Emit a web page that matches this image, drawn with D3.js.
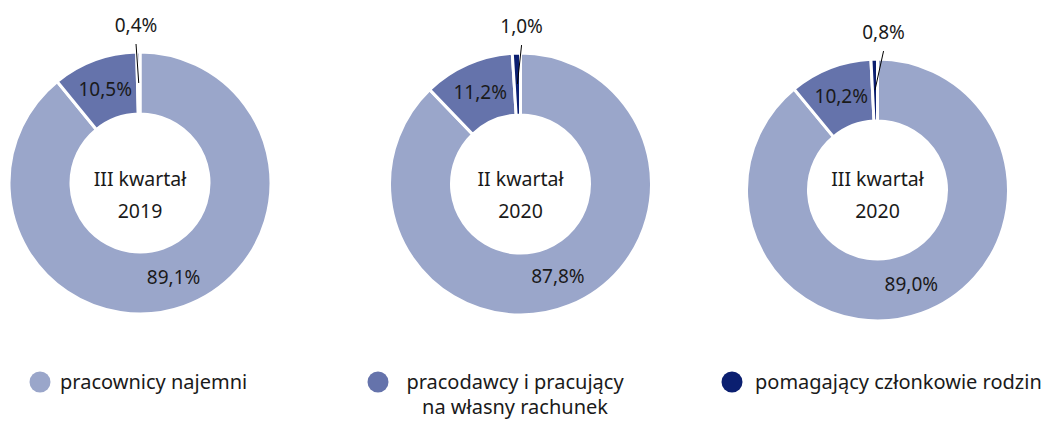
<!DOCTYPE html>
<html>
  <head>
    <meta charset="utf-8">
    <title>Pracujący wg statusu zatrudnienia</title>
    <script src="https://d3js.org/d3.v7.min.js"></script>
    <style>
      body { margin: 0; background: #fff; }
      text { font-family: "Noto Sans", "Open Sans", sans-serif; fill: #1a1a1a; }
    </style>
  </head>
  <body>
    <script>
        var width = 1052;
        var height = 421;

        // data
        var categories = ["pracownicy najemni", "pracodawcy i pracujący na własny rachunek", "pomagający członkowie rodzin"];
        var periodTop = ["III kwartał", "II kwartał", "III kwartał"];
        var periodYear = ["2019", "2020", "2020"];
        var q3_2019 = [89.1, 10.5, 0.4];
        var q2_2020 = [87.8, 11.2, 1.0];
        var q3_2020 = [89.0, 10.2, 0.8];
        var series = [q3_2019, q2_2020, q3_2020];

        // layout
        var centers = [[140, 183], [520.5, 184], [877.5, 190]];
        var outerR = 131, innerR = 69;
        var outsideShift = [-2, 6, 10];
        var titleY = [186, 218];
        var colors = ["#9aa6ca", "#6573ab", "#0b1f70"];

        var color = d3.scaleOrdinal().domain(categories).range(colors);
        var pl = d3.formatLocale({decimal: ",", thousands: " ", grouping: [3], currency: ["", " zł"]});
        var fmt = pl.format(".1f");

        var svg = d3.select("body").append("svg")
            .attr("width", width)
            .attr("height", height)
        ;

        var pie = d3.pie().sort(null).value(function(d){ return d; });
        var arc = d3.arc().innerRadius(innerR).outerRadius(outerR);
        var labelArc = d3.arc().innerRadius(100).outerRadius(100);

        series.forEach(function(vals, k) {
            var g = svg.append("g")
                .attr("transform", "translate(" + centers[k][0] + "," + centers[k][1] + ")");
            var arcs = pie(vals);

            g.selectAll("path")
                .data(arcs)
                .enter()
                .append("path")
                .attr("d", arc)
                .attr("fill", function(d, i){ return color(categories[i]); })
                .attr("stroke", "#fff")
                .attr("stroke-width", 3)
            ;

            arcs.forEach(function(d) {
                var label = fmt(d.data) + "%";
                if (d.data >= 3) {
                    var c = labelArc.centroid(d);
                    g.append("text")
                        .attr("x", c[0])
                        .attr("y", c[1])
                        .attr("dy", "0.35em")
                        .attr("text-anchor", "middle")
                        .attr("font-size", 19)
                        .text(label);
                } else {
                    // small slice: label outside with a leader line
                    var mid = (d.startAngle + d.endAngle) / 2;
                    var lx = 157 * Math.sin(mid) + outsideShift[k];
                    var ly = -157 * Math.cos(mid) + 6;
                    g.append("text")
                        .attr("x", lx)
                        .attr("y", ly)
                        .attr("text-anchor", "middle")
                        .attr("font-size", 19)
                        .text(label);
                    var inner = labelArc.centroid(d);
                    g.append("line")
                        .attr("x1", lx)
                        .attr("y1", ly + 12)
                        .attr("x2", inner[0])
                        .attr("y2", inner[1])
                        .attr("stroke", "#000")
                        .attr("stroke-width", 1);
                }
            });

            g.append("text")
                .attr("y", titleY[0] - centers[k][1])
                .attr("text-anchor", "middle")
                .attr("font-size", 19.5)
                .text(periodTop[k]);
            g.append("text")
                .attr("y", titleY[1] - centers[k][1])
                .attr("text-anchor", "middle")
                .attr("font-size", 19.5)
                .text(periodYear[k]);
        });

        // legend
        var legend = [
            {cx: 40, tx: 60, anchor: "start", lines: ["pracownicy najemni"]},
            {cx: 378, tx: 515, anchor: "middle", lines: ["pracodawcy i pracujący", "na własny rachunek"]},
            {cx: 732, tx: 755, anchor: "start", lines: ["pomagający członkowie rodzin"]}
        ];
        legend.forEach(function(l, i) {
            svg.append("circle")
                .attr("cx", l.cx)
                .attr("cy", 382)
                .attr("r", 10.5)
                .attr("fill", color(categories[i]));
            l.lines.forEach(function(t, j) {
                svg.append("text")
                    .attr("x", l.tx)
                    .attr("y", 389 + j * 25)
                    .attr("text-anchor", l.anchor)
                    .attr("font-size", 20)
                    .text(t);
            });
        });
    </script>
  </body>
</html>
